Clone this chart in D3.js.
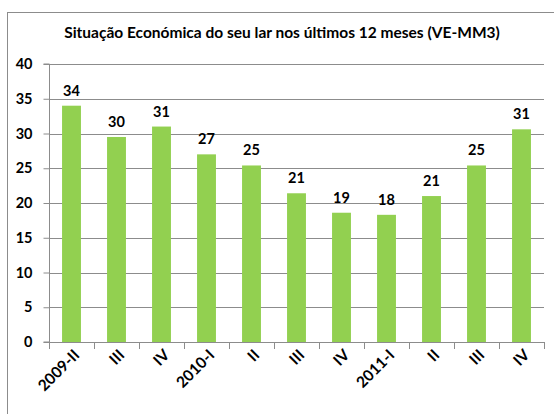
<!DOCTYPE html>
<html>
<head>
<meta charset="utf-8">
<script src="https://cdn.jsdelivr.net/npm/d3@7"></script>
<style>
  body { margin: 0; background: #fff; }
  svg text { font-family: Lato, "Open Sans", sans-serif; font-weight: bold; fill: #000; }
</style>
</head>
<body>
<div id="chart"></div>
<script>
var categories = ["2009-II", "III", "IV", "2010-I", "II", "III", "IV", "2011-I", "II", "III", "IV"];
var values = [34.0, 29.5, 31.0, 27.0, 25.4, 21.4, 18.6, 18.3, 21.0, 25.4, 30.6];
var labels = ["34", "30", "31", "27", "25", "21", "19", "18", "21", "25", "31"];
var yTicks = [0, 5, 10, 15, 20, 25, 30, 35, 40];

var width = 554, height = 414;
var left = 49, right = 544, top0 = 64, base = 342;

var svg = d3.select("#chart").append("svg")
    .attr("width", width)
    .attr("height", height);

// outer chart frame (cut off at right/bottom like the original)
svg.append("rect")
    .attr("x", 7.5).attr("y", 12.5)
    .attr("width", 600).attr("height", 500)
    .attr("fill", "none")
    .attr("stroke", "#8c8c8c");

svg.append("text")
    .attr("x", 282).attr("y", 38)
    .attr("text-anchor", "middle")
    .style("font-size", "15.5px")
    .text("Situação Económica do seu lar nos últimos 12 meses (VE-MM3)");

// categories repeat (III, IV...), so the band scale works on indexes
var idx = d3.range(categories.length);
var x = d3.scaleBand()
    .domain(idx)
    .range([left, right])
    .paddingInner(0.58)
    .paddingOuter(0.29);

var y = d3.scaleLinear()
    .domain([0, 40])
    .range([base, top0]);

// gridlines
svg.append("g")
    .selectAll("line")
    .data(yTicks.slice(1))
    .enter().append("line")
    .attr("x1", left).attr("x2", right)
    .attr("y1", function(d) { return Math.round(y(d)) + 0.5; })
    .attr("y2", function(d) { return Math.round(y(d)) + 0.5; })
    .attr("stroke", "#8c8c8c");

// y axis
var yAxis = svg.append("g")
    .attr("transform", "translate(" + (left + 0.5) + ",0)")
    .call(d3.axisLeft(y).tickValues(yTicks).tickSize(6).tickPadding(11));
yAxis.selectAll("line, path").attr("stroke", "#8c8c8c");
yAxis.select(".domain").attr("d", "M-6," + y(40) + "H0V" + y(0) + "H-6");
yAxis.selectAll("text").style("font-size", "14.5px").style("font-family", "Lato, sans-serif").style("font-weight", "bold");

// x axis line with ticks between categories
var xAxis = svg.append("g");
xAxis.append("line")
    .attr("x1", left).attr("x2", right)
    .attr("y1", base + 0.5).attr("y2", base + 0.5)
    .attr("stroke", "#8c8c8c");
xAxis.selectAll(".tk")
    .data(d3.range(categories.length + 1))
    .enter().append("line")
    .attr("class", "tk")
    .attr("x1", function(i) { return Math.round(left + i * x.step()) + 0.5; })
    .attr("x2", function(i) { return Math.round(left + i * x.step()) + 0.5; })
    .attr("y1", base).attr("y2", base + 7)
    .attr("stroke", "#8c8c8c");

xAxis.selectAll(".lbl")
    .data(idx)
    .enter().append("text")
    .attr("class", "lbl")
    .attr("text-anchor", "end")
    .style("font-size", "15.5px")
    .attr("transform", function(i) {
      return "translate(" + (x(i) + x.bandwidth() / 2 + 9) + "," + (base + 14) + ") rotate(-45)";
    })
    .text(function(i) { return categories[i]; });

// bars
svg.selectAll(".bar")
    .data(idx)
    .enter().append("rect")
    .attr("class", "bar")
    .attr("x", function(i) { return x(i); })
    .attr("y", function(i) { return y(values[i]); })
    .attr("width", x.bandwidth())
    .attr("height", function(i) { return y(0) - y(values[i]); })
    .attr("fill", "#92d050");

// value labels
svg.selectAll(".val")
    .data(idx)
    .enter().append("text")
    .attr("class", "val")
    .attr("text-anchor", "middle")
    .style("font-size", "14.5px")
    .attr("x", function(i) { return x(i) + x.bandwidth() / 2; })
    .attr("y", function(i) { return y(values[i]) - 10; })
    .text(function(i) { return labels[i]; });
</script>
</body>
</html>
